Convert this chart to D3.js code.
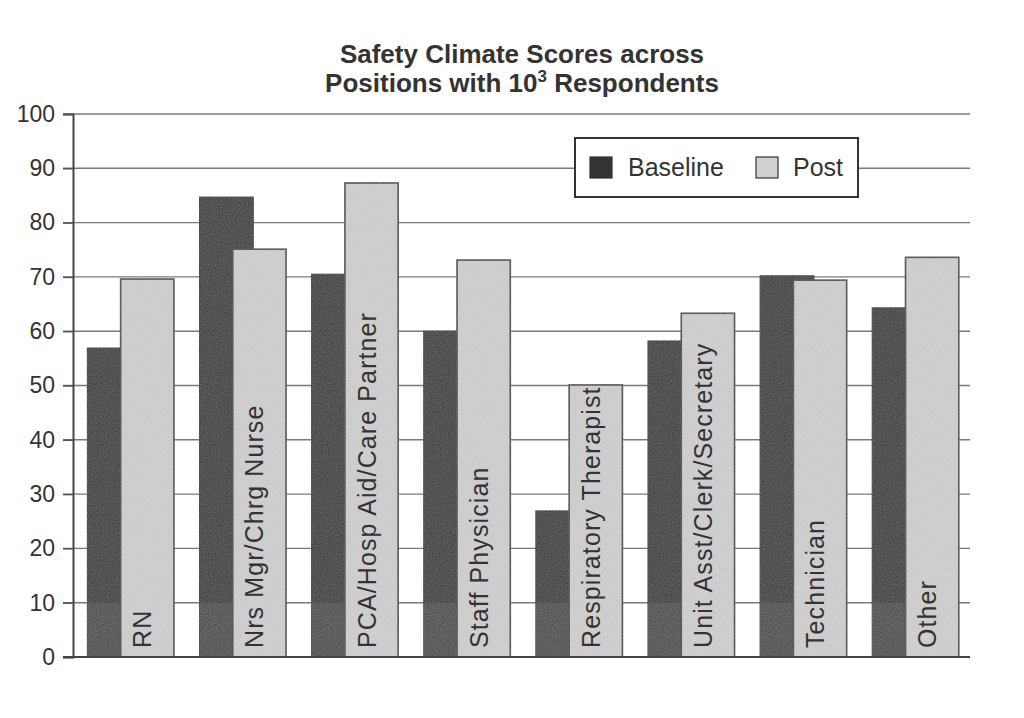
<!DOCTYPE html>
<html><head><meta charset="utf-8">
<script src="https://cdn.jsdelivr.net/npm/d3@7"></script>
<style>html,body{margin:0;padding:0;background:#fff;}svg{display:block;}</style>
</head><body>
<svg id="chart" width="1024" height="718"></svg>
<script>
const categories = ["RN","Nrs Mgr/Chrg Nurse","PCA/Hosp Aid/Care Partner","Staff Physician","Respiratory Therapist","Unit Asst/Clerk/Secretary","Technician","Other"];
const baseline = [56.9, 84.7, 70.5, 60.0, 26.9, 58.2, 70.2, 64.3];
const post = [69.6, 75.1, 87.3, 73.1, 50.1, 63.3, 69.4, 73.6];
const yTicks = [0,10,20,30,40,50,60,70,80,90,100];
const seriesNames = ["Baseline","Post"];

(function(){
const svg = d3.select("#chart");
const font = "'Liberation Sans', Arial, sans-serif";
const mLeft = 73, mRight = 970, mTop = 114, mBottom = 657;

const x = d3.scaleBand().domain(categories).range([mLeft, mRight]).padding(0);
const y = d3.scaleLinear().domain([0,100]).range([mBottom, mTop]);
const bw = x.bandwidth();

// texture filter for scanned look
const defs = svg.append("defs");
const f = defs.append("filter").attr("id","grain");
f.append("feTurbulence").attr("type","fractalNoise").attr("baseFrequency",0.9).attr("numOctaves",1).attr("result","n");
f.append("feColorMatrix").attr("in","n").attr("type","saturate").attr("values",0).attr("result","g");
f.append("feComponentTransfer").attr("in","g").attr("result","g2")
  .append("feFuncA").attr("type","linear").attr("slope",0.25);
f.append("feComposite").attr("in","g2").attr("in2","SourceGraphic").attr("operator","in").attr("result","c");
f.append("feMerge").call(m=>{m.append("feMergeNode").attr("in","SourceGraphic");m.append("feMergeNode").attr("in","c");});

// title
const title = svg.append("text").attr("x",522).attr("text-anchor","middle")
  .attr("font-family",font).attr("font-weight","bold").attr("font-size",26).attr("fill","#333");
title.append("tspan").attr("x",522).attr("y",63).text("Safety Climate Scores across");
const l2 = title.append("tspan").attr("x",522).attr("y",92);
l2.append("tspan").text("Positions with 10");
l2.append("tspan").attr("dy",-10).attr("font-size",17).text("3");
l2.append("tspan").attr("dy",10).text(" Respondents");

// gridlines
svg.append("g").selectAll("line").data(yTicks.filter(d=>d>0)).join("line")
  .attr("x1",mLeft-10).attr("x2",mRight).attr("y1",d=>y(d)).attr("y2",d=>y(d))
  .attr("stroke","#7a7a7a").attr("stroke-width",1.4);

// y axis
const yAxis = d3.axisLeft(y).tickValues(yTicks).tickSize(10).tickPadding(8).tickFormat(d3.format("d"));
const ga = svg.append("g").attr("transform",`translate(${mLeft},0)`).call(yAxis);
ga.select(".domain").attr("stroke","#444").attr("stroke-width",2);
ga.selectAll(".tick line").attr("stroke","#555").attr("stroke-width",1.5);
ga.selectAll(".tick text").attr("font-family",font).attr("font-size",23).attr("fill","#333");

// bars
const groups = svg.append("g").selectAll("g").data(categories).join("g")
  .attr("transform",d=>`translate(${x(d)},0)`);
groups.append("rect")
  .attr("x",bw*0.128).attr("width",bw*0.48)
  .attr("y",(d,i)=>y(baseline[i])).attr("height",(d,i)=>y(0)-y(baseline[i]))
  .attr("fill","#333").attr("stroke","#2a2a2a").attr("stroke-width",1).attr("filter","url(#grain)");
groups.append("rect")
  .attr("x",bw*0.128).attr("width",bw*0.48)
  .attr("y",y(10)).attr("height",y(0)-y(10))
  .attr("fill","#fff").attr("opacity",0.07);
groups.append("rect")
  .attr("x",bw*0.425).attr("width",bw*0.475)
  .attr("y",(d,i)=>y(post[i])).attr("height",(d,i)=>y(0)-y(post[i]))
  .attr("fill","#d0d0d0").attr("stroke","#444").attr("stroke-width",1.6).attr("filter","url(#grain)");
groups.append("text")
  .attr("transform",d=>`translate(${bw*(0.425+0.475/2)+4},${mBottom-9}) rotate(-90)`)
  .attr("font-family",font).attr("font-size",25).attr("letter-spacing",1.1).attr("fill","#333")
  .text(d=>d);

// x axis line
svg.append("line").attr("x1",mLeft-10).attr("x2",mRight).attr("y1",mBottom).attr("y2",mBottom)
  .attr("stroke","#444").attr("stroke-width",2.2);

// legend
const lg = svg.append("g");
lg.append("rect").attr("x",575).attr("y",138).attr("width",283).attr("height",59)
  .attr("fill","#fff").attr("stroke","#333").attr("stroke-width",2);
const lx = [590, 756], tx = [628, 793];
const fills = ["#333","#d0d0d0"];
seriesNames.forEach((s,i)=>{
  lg.append("rect").attr("x",lx[i]).attr("y",157).attr("width",22).attr("height",21)
    .attr("fill",fills[i]).attr("stroke","#333").attr("stroke-width",1.2);
  lg.append("text").attr("x",tx[i]).attr("y",176).attr("font-family",font)
    .attr("font-size",25).attr("fill","#333").text(s);
});
})();
</script>
</body></html>
